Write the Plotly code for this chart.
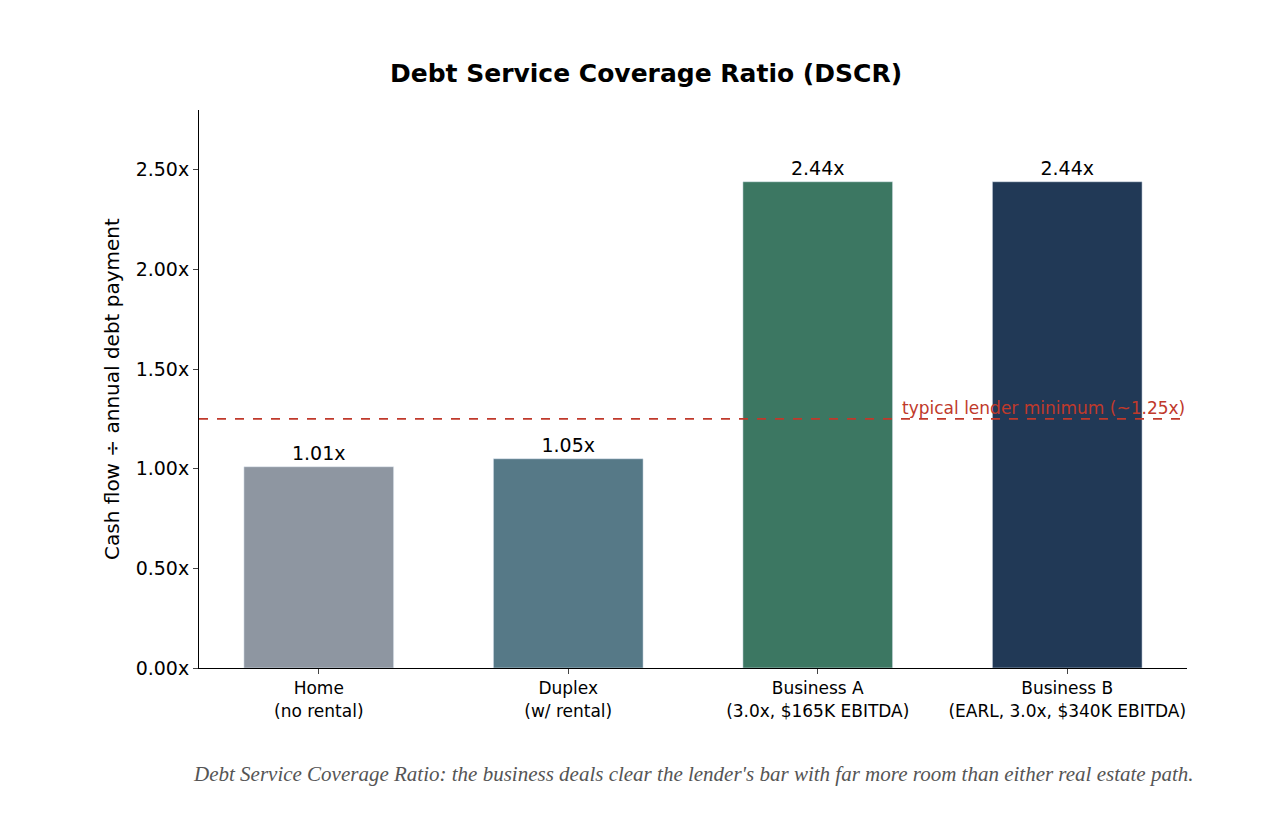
import plotly.graph_objects as go

categories = ["Home<br>(no rental)", "Duplex<br>(w/ rental)", "Business A<br>(3.0x, $165K EBITDA)", "Business B<br>(EARL, 3.0x, $340K EBITDA)"]
values = [1.01, 1.05, 2.44, 2.44]
labels = ["1.01x", "1.05x", "2.44x", "2.44x"]
colors = ["#8e96a1", "#567987", "#3c7762", "#213956"]
lender_min = 1.25
yticks = [0, 0.5, 1.0, 1.5, 2.0, 2.5]

fig = go.Figure(go.Bar(
    x=list(range(4)), y=values, width=0.6, marker_color=colors,
    text=labels, textposition="outside", cliponaxis=False,
    textfont=dict(size=19, color="black", family="DejaVu Sans Bold, DejaVu Sans"),
))
fig.add_shape(type="line", xref="x", yref="y", x0=-0.48, x1=3.48, y0=lender_min, y1=lender_min,
              line=dict(color="#c0392b", width=1.8, dash="dash"))
fig.add_annotation(x=3.48, y=lender_min, xref="x", yref="y", text="typical lender minimum (~1.25x)",
                   showarrow=False, xanchor="right", yanchor="bottom", yshift=-1,
                   font=dict(size=17, color="#c0392b", family="DejaVu Sans"))
fig.add_annotation(x=0.5, y=-0.19, xref="paper", yref="paper", yanchor="middle",
                   text="<i>Debt Service Coverage Ratio: the business deals clear the lender's bar with far more room than either real estate path.</i>",
                   showarrow=False, font=dict(size=21, color="#555555", family="Liberation Serif"))
fig.update_layout(
    width=1276, height=814, margin=dict(l=191, r=97, t=102, b=154),
    plot_bgcolor="white", paper_bgcolor="white",
    font=dict(family="DejaVu Sans", color="black"),
    title=dict(text="<b>Debt Service Coverage Ratio (DSCR)</b>", x=0.5, xanchor="center", y=0.92, yanchor="middle",
               font=dict(size=25, color="black")),
    showlegend=False,
    xaxis=dict(range=[-0.48, 3.48], tickvals=list(range(4)), ticktext=categories,
               showline=True, linecolor="black", ticks="outside", ticklen=5,
               tickfont=dict(size=17), showgrid=False, zeroline=False),
    yaxis=dict(range=[0, 2.8], tickvals=yticks, ticktext=[f"{v:.2f}x" for v in yticks],
               showline=True, linecolor="black", ticks="outside", ticklen=5,
               tickfont=dict(size=19), showgrid=False, zeroline=False,
               title=dict(text="Cash flow ÷ annual debt payment", font=dict(size=20), standoff=10)),
)
fig.write_html("out.html")
